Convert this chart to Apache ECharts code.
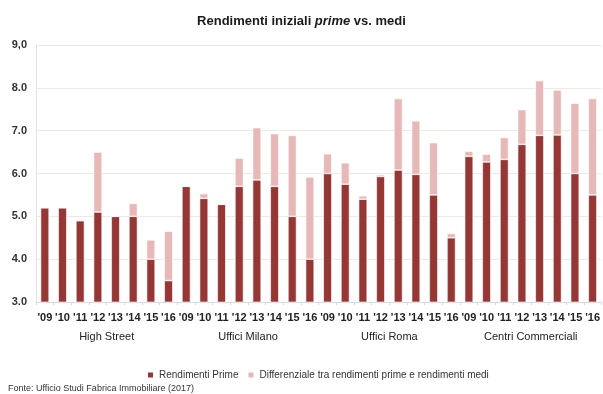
<!DOCTYPE html>
<html>
<head>
<meta charset="utf-8">
<script src="https://cdn.jsdelivr.net/npm/echarts@6/dist/echarts.min.js"></script>
<style>
  html, body { margin: 0; padding: 0; background: #fff; }
  #chart { width: 603px; height: 394px; }
</style>
</head>
<body>
<div id="chart"></div>
<script>
// Year labels repeated for each segment
const years = ["'09", "'10", "'11", "'12", "'13", "'14", "'15", "'16"];
const segments = ['High Street', 'Uffici Milano', 'Uffici Roma', 'Centri Commerciali'];

// Prime yields (%) per segment, 2009-2016
const primeHighStreet = [5.2, 5.2, 4.9, 5.1, 5.0, 5.0, 4.0, 3.5];
const primeMilano     = [5.7, 5.42, 5.28, 5.7, 5.85, 5.7, 5.0, 4.0];
const primeRoma       = [6.0, 5.75, 5.4, 5.93, 6.08, 5.98, 5.5, 4.5];
const primeCentri     = [6.4, 6.27, 6.33, 6.68, 6.89, 6.9, 6.0, 5.5];

// Spread between prime and average yields (percentage points)
const spreadHighStreet = [0, 0, 0, 1.4, 0, 0.3, 0.45, 1.15];
const spreadMilano     = [0, 0.11, 0, 0.66, 1.22, 1.23, 1.89, 1.92];
const spreadRoma       = [0.46, 0.5, 0.08, 0.04, 1.67, 1.25, 1.22, 0.1];
const spreadCentri     = [0.12, 0.18, 0.51, 0.81, 1.28, 1.05, 1.64, 2.25];

const yTicks = { min: 3, max: 9, interval: 1 };

const categories = [].concat(years, years, years, years);
const primeData = [].concat(primeHighStreet, primeMilano, primeRoma, primeCentri);
const spreadData = [].concat(spreadHighStreet, spreadMilano, spreadRoma, spreadCentri);

const chart = echarts.init(document.getElementById('chart'), null, { renderer: 'canvas' });

const baseFont = 'Liberation Sans, Arial, sans-serif';

chart.setOption({
  animation: false,
  textStyle: { fontFamily: baseFont },
  title: {
    text: '{b|Rendimenti iniziali }{i|prime}{b| vs. medi}',
    left: 'center',
    top: 10,
    textStyle: {
      rich: {
        b: { fontSize: 13, fontWeight: 'bold', color: '#1a1a1a', fontFamily: baseFont },
        i: { fontSize: 13, fontWeight: 'bold', fontStyle: 'italic', color: '#1a1a1a', fontFamily: baseFont }
      }
    }
  },
  grid: { left: 36, right: 0, top: 45, bottom: 92 },
  legend: {
    top: 365,
    left: 141,
    itemWidth: 7,
    itemHeight: 7,
    itemGap: 8,
    icon: 'rect',
    textStyle: { fontSize: 10, color: '#333', fontFamily: baseFont },
    data: ['Rendimenti Prime', 'Differenziale tra rendimenti prime e rendimenti medi']
  },
  xAxis: {
    type: 'category',
    data: categories,
    axisLine: { lineStyle: { color: '#d9d9d9' } },
    axisTick: { show: true, lineStyle: { color: '#d9d9d9' }, length: 3 },
    axisLabel: { interval: 0, fontSize: 11, fontWeight: 'bold', color: '#222', margin: 10 }
  },
  yAxis: {
    type: 'value',
    min: yTicks.min,
    max: yTicks.max,
    interval: yTicks.interval,
    axisLine: { show: true, lineStyle: { color: '#e3e3e3' } },
    axisTick: { show: false },
    splitLine: { lineStyle: { color: '#ecebe0' } },
    axisLabel: {
      fontSize: 11,
      fontWeight: 'bold',
      color: '#333',
      margin: 9,
      formatter: v => (v === 9 ? '9,0' : v.toFixed(1))
    }
  },
  series: [
    {
      name: 'Rendimenti Prime',
      type: 'bar',
      stack: 'yield',
      barWidth: 8.5,
      data: primeData,
      itemStyle: { color: '#953735', borderColor: '#ffffff', borderWidth: 0.6 }
    },
    {
      name: 'Differenziale tra rendimenti prime e rendimenti medi',
      type: 'bar',
      stack: 'yield',
      barWidth: 8.5,
      data: spreadData,
      itemStyle: { color: '#e6b9b8', borderColor: '#ffffff', borderWidth: 0.6 }
    }
  ]
});

// Segment names centred under each group of eight years
const perGroup = years.length;
const groupLabels = segments.map((name, i) => {
  const first = chart.convertToPixel({ xAxisIndex: 0 }, i * perGroup);
  const last = chart.convertToPixel({ xAxisIndex: 0 }, i * perGroup + perGroup - 1);
  return {
    type: 'text',
    x: (first + last) / 2,
    y: 337,
    style: {
      text: name,
      align: 'center',
      verticalAlign: 'middle',
      fontSize: 11,
      fontFamily: baseFont,
      fill: '#222'
    }
  };
});

chart.setOption({
  graphic: groupLabels.concat([{
    type: 'text',
    x: 8,
    y: 389,
    style: {
      text: 'Fonte: Ufficio Studi Fabrica Immobiliare (2017)',
      verticalAlign: 'middle',
      fontSize: 9,
      fontFamily: baseFont,
      fill: '#333'
    }
  }])
});
</script>
</body>
</html>
